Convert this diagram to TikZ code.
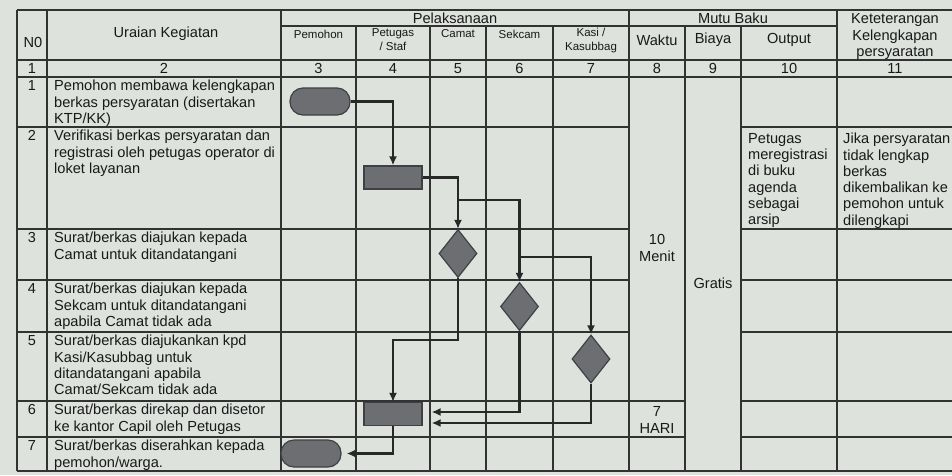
\documentclass[tikz,border=0pt]{standalone}
\usepackage{fontspec}
\setmainfont{Liberation Sans}
\usetikzlibrary{shapes.geometric,arrows.meta}
\definecolor{paper}{RGB}{221,226,221}
\definecolor{ink}{RGB}{25,25,25}
\definecolor{gridc}{RGB}{50,50,50}
\definecolor{shapefill}{RGB}{108,110,114}
\definecolor{shapeedge}{RGB}{62,64,68}
\definecolor{wire}{RGB}{40,40,40}
\begin{document}
\begin{tikzpicture}[x=1pt,y=-1pt,
  tl/.style={draw=gridc,line width=1.2pt},
  hd/.style={font=\fontsize{14.6}{16.5}\selectfont,text=ink,inner sep=0pt,align=center},
  sh/.style={font=\fontsize{11.5}{14}\selectfont,text=ink,inner sep=0pt,align=center},
  body/.style={font=\fontsize{14.6}{16.3}\selectfont,text=ink,inner sep=0pt,align=left,anchor=north west},
  num/.style={font=\fontsize{14.5}{16}\selectfont,text=ink,inner sep=0pt,anchor=north},
  term/.style={draw=shapeedge,fill=shapefill,line width=1.2pt,rounded corners=13pt,minimum width=60pt,minimum height=27pt,inner sep=0pt},
  proc/.style={draw=shapeedge,fill=shapefill,line width=1.2pt,minimum width=58pt,minimum height=23pt,inner sep=0pt},
  dec/.style={diamond,draw=shapeedge,fill=shapefill,line width=1.2pt,minimum width=38pt,minimum height=48pt,inner sep=0pt},
  conn/.style={draw=wire,line width=2.8pt,-{Latex[length=9pt,width=8pt]}},
]
\fill[paper] (0,0) rectangle (952,475);
\clip (0,0) rectangle (952,475);

% ---------- grid ----------
\draw[tl] (17,10) -- (960,10);
\draw[tl] (281,26) -- (837,26);
\draw[tl] (17,60) -- (960,60);
\draw[tl] (17,77) -- (960,77);
\foreach \yy in {127,229,280,332} {
  \draw[tl] (17,\yy) -- (629,\yy);
  \draw[tl] (741,\yy) -- (960,\yy);
}
\foreach \yy in {401,437} {
  \draw[tl] (17,\yy) -- (685,\yy);
  \draw[tl] (741,\yy) -- (960,\yy);
}
\draw[tl] (17,471) -- (960,471);
\foreach \xx in {17,47,281,629,837} { \draw[tl] (\xx,10) -- (\xx,471); }
\foreach \xx in {356,430,486,553,685,741} { \draw[tl] (\xx,26) -- (\xx,471); }

% ---------- header ----------
\node[hd] (hNo) at (33,42) {N0};
\node[hd] (hUr) at (166,34) {Uraian Kegiatan};
\node[hd] (hPel) at (455,18) {Pelaksanaan};
\node[sh] (hPem) at (318.5,34) {Pemohon};
\node[sh] (hPet) at (393,40) {Petugas\\/ Staf};
\node[sh] (hCam) at (458,34) {Camat};
\node[sh] (hSek) at (519.5,34) {Sekcam};
\node[sh] (hKas) at (591,41) {Kasi /\\Kasubbag};
\node[hd] (hMutu) at (733,18) {Mutu Baku};
\node[hd] (hWak) at (657,40) {Waktu};
\node[hd] (hBia) at (713,40) {Biaya};
\node[hd] (hOut) at (789,40) {Output};
\node[hd] (hKet) at (895,36.5) {Keteterangan\\Kelengkapan\\persyaratan};

% number row
\node[hd] (n1) at (32,68.5) {1};
\node[hd] (n2) at (164,68.5) {2};
\node[hd] (n3) at (318.5,68.5) {3};
\node[hd] (n4) at (393,68.5) {4};
\node[hd] (n5) at (458,68.5) {5};
\node[hd] (n6) at (519.5,68.5) {6};
\node[hd] (n7) at (591,68.5) {7};
\node[hd] (n8) at (657,68.5) {8};
\node[hd] (n9) at (713,68.5) {9};
\node[hd] (n10) at (789,68.5) {10};
\node[hd] (n11) at (895,68.5) {11};

% ---------- rows ----------
\node[num] (r1n) at (32,80) {1};
\node[body] (r1t) at (54,80) {Pemohon membawa kelengkapan\\berkas persyaratan (disertakan\\KTP/KK)};
\node[num] (r2n) at (32,130) {2};
\node[body] (r2t) at (54,130) {Verifikasi berkas persyaratan dan\\registrasi oleh petugas operator di\\loket layanan};
\node[num] (r3n) at (32,232) {3};
\node[body] (r3t) at (54,232) {Surat/berkas diajukan kepada\\Camat untuk ditandatangani};
\node[num] (r4n) at (32,283) {4};
\node[body] (r4t) at (54,283) {Surat/berkas diajukan kepada\\Sekcam untuk ditandatangani\\apabila Camat tidak ada};
\node[num] (r5n) at (32,335) {5};
\node[body] (r5t) at (54,335) {Surat/berkas diajukankan kpd\\Kasi/Kasubbag untuk\\ditandatangani apabila\\Camat/Sekcam tidak ada};
\node[num] (r6n) at (32,404) {6};
\node[body] (r6t) at (54,404) {Surat/berkas direkap dan disetor\\ke kantor Capil oleh Petugas};
\node[num] (r7n) at (32,440) {7};
\node[body] (r7t) at (54,440) {Surat/berkas diserahkan kepada\\pemohon/warga.};

% mutu baku cells
\node[hd] (wak1) at (657,248) {10\\Menit};
\node[hd] (wak2) at (657,420) {7\\HARI};
\node[hd] (bia) at (713,283) {Gratis};
\node[body] (out2) at (748,133) {Petugas\\meregistrasi\\di buku\\agenda\\sebagai\\arsip};
\node[body] (ket2) at (843,133) {Jika persyaratan\\tidak lengkap\\berkas\\dikembalikan ke\\pemohon untuk\\dilengkapi};

% ---------- flowchart ----------
\node[term] (T1) at (320,101.5) {};
\node[proc] (R1) at (393,177.5) {};
\node[dec] (D1) at (458,253.5) {};
\node[dec] (D2) at (519.5,306.5) {};
\node[dec] (D3) at (591,359) {};
\node[proc] (R2) at (393,414) {};
\node[term] (T2) at (311,453.5) {};

\coordinate (J1) at (458,200);
\coordinate (J2) at (519.5,257);
\coordinate (K1) at (393,340);

\draw[conn] (T1.east) -| (R1.north);
\draw[conn] (R1.east) -| (D1.north);
\draw[conn] (J1) -| (D2.north);
\draw[conn] (J2) -| (D3.north);
\draw[conn] (D1.south) |- (K1) -- (R2.north);
\draw[conn,shorten >=9pt] (D2.south) |- ([yshift=2pt]R2.east);
\draw[conn,shorten >=9pt] (D3.south) |- ([yshift=-9pt]R2.east);
\draw[conn,shorten >=5pt] (R2.south) |- (T2.east);
\end{tikzpicture}
\end{document}
